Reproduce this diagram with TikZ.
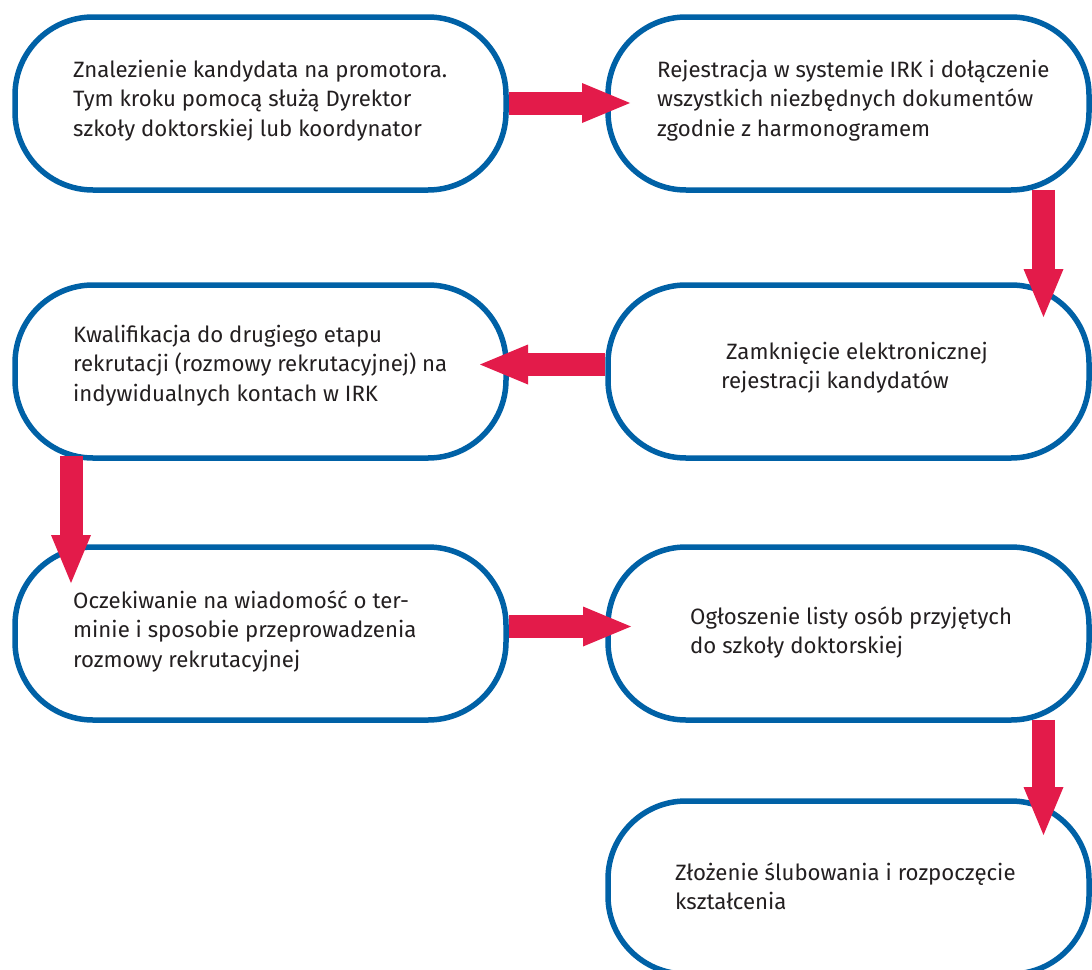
\documentclass[tikz,border=0pt]{standalone}
\usepackage{fontspec}
\setmainfont{Fira Sans}
\usetikzlibrary{arrows.meta,calc}
\definecolor{boxblue}{HTML}{0061A6}
\definecolor{arrowred}{HTML}{E31B4A}
\definecolor{txtgray}{HTML}{231F20}
\tikzset{
  stepbox/.style={draw=boxblue, line width=5.5pt, fill=white, rectangle,
    rounded corners=78pt, inner sep=0pt, minimum height=173pt},
  leftbox/.style={stepbox, minimum width=491pt},
  rightbox/.style={stepbox, minimum width=481pt},
  steptext/.style={anchor=base west, inner sep=0pt, text=txtgray,
    font=\fontsize{22.2}{29.5}\selectfont},
  flow/.style={draw=arrowred, line width=23pt,
    -{Triangle[width=40pt,length=48pt,line width=0pt]}}
}
\newcommand{\lines}[1]{\begin{tabular}[t]{@{}l@{}}#1\end{tabular}}
\begin{document}
\begin{tikzpicture}[x=1pt,y=-1pt]
\clip (0,0) rectangle (1092,969);
\fill[white] (0,0) rectangle (1092,969);
% boxes
\node[leftbox]  (b1) at (260.5,103.5) {};
\node[rightbox] (b2) at (848.5,103.5) {};
\node[rightbox] (b3) at (848.5,371.5) {};
\node[leftbox]  (b4) at (260.5,371.5) {};
\node[leftbox]  (b5) at (260.5,633.5) {};
\node[rightbox] (b6) at (848.5,633.5) {};
\node[rightbox] (b7) at (848.5,887.5) {};
% texts
\node[steptext] (l1) at (73,77) {\lines{Znalezienie kandydata na promotora.\\Tym kroku pomocą służą Dyrektor\\szkoły doktorskiej lub koordynator}};
\node[steptext] (l2) at (657,77) {\lines{Rejestracja w systemie IRK i dołączenie\\wszystkich niezbędnych dokumentów\\zgodnie z harmonogramem}};
\node[steptext] (l3) at (721,359) {\lines{\hspace{5pt}Zamknięcie elektronicznej\\rejestracji kandydatów}};
\node[steptext] (l4) at (73,342) {\lines{Kwalifikacja do drugiego etapu\\rekrutacji (rozmowy rekrutacyjnej) na\\indywidualnych kontach w IRK}};
\node[steptext] (l5) at (73,608) {\lines{Oczekiwanie na wiadomość o ter-\\minie i sposobie przeprowadzenia\\rozmowy rekrutacyjnej}};
\node[steptext] (l6) at (690,624) {\lines{Ogłoszenie listy osób przyjętych\\do szkoły doktorskiej}};
\node[steptext] (l7) at (675,880) {\lines{Złożenie ślubowania i rozpoczęcie\\kształcenia}};
% arrow tips
\coordinate (t1) at (630,103);
\coordinate (t2) at (1043.5,317);
\coordinate (t3) at (480,364.5);
\coordinate (t4) at (71,583);
\coordinate (t5) at (631,626.5);
\coordinate (t6) at (1043.5,835);
% arrows
\draw[flow] (b1.east |- t1) -- (t1);
\draw[flow] ($(b2.south -| t2)+(0,-3)$) -- (t2);
\draw[flow] (b3.west |- t3) -- (t3);
\draw[flow] ($(b4.south -| t4)+(0,-5)$) -- (t4);
\draw[flow] (b5.east |- t5) -- (t5);
\draw[flow] ($(b6.south -| t6)+(0,-3)$) -- (t6);
\end{tikzpicture}
\end{document}
